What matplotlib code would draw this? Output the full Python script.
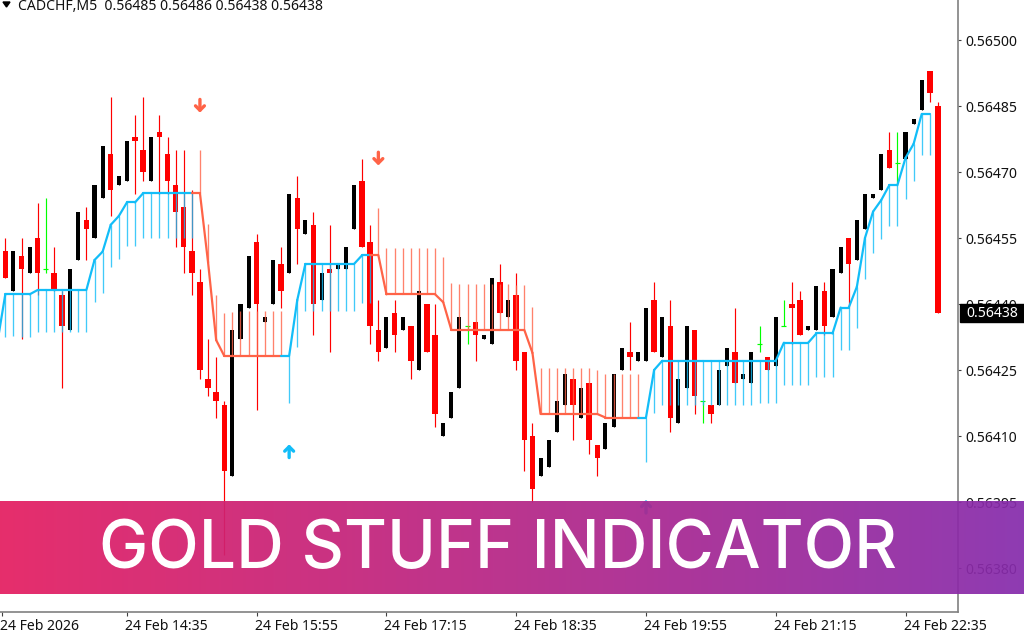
import numpy as np
import matplotlib
matplotlib.use("Agg")
import matplotlib.pyplot as plt
from matplotlib.ticker import FixedLocator
from matplotlib.transforms import ScaledTranslation

# quotes are kept as points above 0.56000 (1 point = 0.00001)
highs = [455,452,455,453,463,464,453,443,448,461,462,467,476,487,469,477,483,487,478,483,478,475,475,466,
         448,432,428,418,434,440,451,456,437,450,453,465,469,459,461,447,458,449,453,467,473,458,441,437,
         441,437,435,443,440,440,413,420,437,435,436,433,446,449,441,447,429,413,405,409,418,424,423,421,
         422,408,413,424,430,436,429,439,445,437,441,423,435,434,418,417,425,430,439,424,429,435,428,437,
         441,445,443,435,444,445,448,453,455,459,465,465,474,479,479,479,482,491,493,486]
opens = [452,443,451,447,455,448,447,442,434,450,459,455,464,474,467,468,478,475,468,479,474,467,462,452,
         445,423,420,417,401,432,439,454,436,440,449,447,464,456,458,441,448,448,448,457,468,454,434,430,
         438,434,435,425,440,433,410,414,421,435,436,432,431,445,437,442,429,410,401,403,411,417,423,414,
         422,408,407,412,425,429,427,427,441,428,435,413,421,434,418,417,417,426,429,423,422,431,428,426,
         435,440,441,434,434,443,437,447,455,450,457,464,466,475,472,473,481,484,493,485]
closes = [446,452,448,453,447,448,443,435,448,461,457,467,476,466,469,477,477,470,478,478,468,461,453,447,
          425,421,418,402,434,440,451,440,437,450,443,465,457,459,440,447,447,449,453,467,453,435,429,437,
          433,437,427,443,429,415,413,420,437,435,433,433,446,438,441,427,409,398,405,409,418,424,417,421,
          409,405,413,424,430,428,429,439,429,437,414,423,435,419,418,415,425,430,422,424,429,431,425,437,
          435,439,433,435,444,435,448,453,449,459,465,465,474,471,472,479,482,491,488,438]
lows = [446,443,432,447,442,447,443,421,434,450,450,455,464,460,467,468,465,468,468,465,465,453,447,442,
        423,419,414,383,401,432,439,416,436,440,439,447,449,456,433,441,429,448,448,457,453,431,427,430,
        429,434,423,425,429,412,410,414,421,431,427,432,431,438,437,425,402,395,401,403,411,417,409,414,
        406,401,407,412,425,425,427,427,429,428,411,413,421,415,413,413,417,426,422,423,422,429,425,426,
        435,431,433,434,434,433,437,447,439,450,457,464,466,471,467,473,481,484,486,438]

# indicator line and far end of its hatching, first value is one bar left of the window
gold_line = [431,442.2,442.2,442.2,442.2,443.2,443.2,443.2,443.2,443.2,443.2,443.2,450,451.9,458,460,463.1,463.1,
             465.2,465.2,465.2,465.2,465.2,465.2,465.2,465.2,449.5,431.8,428.2,428.2,428.2,428.2,428.2,428.2,428.2,428.2,428.2,
             440.9,449.1,449.1,449.1,449.1,449.1,449.1,449.1,451.1,451.1,451.1,442.2,442.2,442.2,442.2,442.2,442.2,442.2,
             440.4,434.1,434.1,434.1,434.1,434.1,434.1,434.1,434.1,434.1,434.1,428.9,415,415,415,415,415,415,415,415,
             414.2,414.2,414.2,414.2,414.2,414.2,425,427.1,427.1,427.1,427.1,427.1,427.1,427.1,427.1,427.1,427.1,427.1,427.1,427.1,427.1,427.1,
             431.2,431.2,431.2,431.2,433.3,433.3,433.3,439.2,439.2,443.9,455,461,463.6,467,467,473.2,476.4,483.2,483.2]
gold_edge = [427,432.5,432.8,432.5,432.5,433.7,433.7,433.7,433.7,433.7,433.7,433.7,440.4,442.4,448.5,450.2,453.3,453.3,
             455.1,455.1,455.1,455.1,455.1,455.1,455.1,475.1,458.2,442,438,438.2,438.3,438.3,438.3,438.3,438.3,438.3,417.5,
             430.3,438.3,438.3,438.3,438.3,438.3,438.3,438.3,440.2,440.2,461.9,452.7,452.7,452.7,452.7,452.7,452.7,452.7,
             450.6,444.7,444.6,444.6,444.6,444.6,444.6,444.6,444.6,444.3,444.3,439.4,425.4,425.4,425.4,425.4,425.4,425.4,425.4,424.9,
             424.2,424.2,424.2,424.2,424.2,404.1,415.2,417,417,417,417,417,417,417,417,417,417,417,417,417.4,417.4,417.4,
             421.6,421.6,421.6,421.6,423.5,423.5,423.5,429.5,429.5,434.6,445.7,451.7,454.8,457.8,457.8,463.9,468,473.9,473.9]

sell_arrows = {24: 485, 46: 473}
buy_arrows = {35: 406.6, 79: 394}

tick_bars = [-0.4, 15, 31, 47, 63, 79, 95, 111]
tick_labels = ["24 Feb 2026", "24 Feb 14:35", "24 Feb 15:55", "24 Feb 17:15", "24 Feb 18:35",
               "24 Feb 19:55", "24 Feb 21:15", "24 Feb 22:35"]
price_ticks = [0.56380, 0.56395, 0.56410, 0.56425, 0.56440, 0.56455, 0.56470, 0.56485, 0.56500]

BLUE = "#12BDF8"
ORANGE = "#FF6347"
FONT = "Noto Sans"
LABEL_SIZE = 10.1
TEXT_COLOR = "#111111"


def to_price(values):
    return 0.56 + np.asarray(values, dtype=float) * 1e-5


o, h, l, c = to_price(opens), to_price(highs), to_price(lows), to_price(closes)
line = to_price(gold_line)
edge = to_price(gold_edge)
bars = np.arange(len(o))
line_x = np.arange(-1, len(o))

fig = plt.figure(figsize=(10.24, 6.4), dpi=100, facecolor="white")
ax = fig.add_axes([0, 1 - 612 / 640, 958 / 1024, 612 / 640])

# candles
for i in bars:
    if c[i] == o[i]:
        color, width = "#00FF00", 0.0
    elif c[i] > o[i]:
        color, width = "black", 0.5
    else:
        color, width = "#FF0000", 0.68
    ax.vlines(i, l[i], h[i], color=color, lw=0.85, zorder=2)
    if width:
        ax.bar(i, abs(c[i] - o[i]), bottom=min(o[i], c[i]), width=width, color=color, lw=0, zorder=2)
    else:
        ax.hlines(c[i], i - 0.3, i + 0.3, color=color, lw=0.85, zorder=2)

# indicator hatching and line
is_sell = edge > line
for x, a, b, sell in zip(line_x, line, edge, is_sell):
    ax.vlines(x, a, b, color=ORANGE if sell else BLUE, lw=0.95, alpha=0.8, zorder=3)
for k in range(1, len(line)):
    ax.plot(line_x[k - 1:k + 1], line[k - 1:k + 1], color=ORANGE if is_sell[k] else BLUE,
            lw=1.6, solid_capstyle="round", zorder=4)

# signal arrows
arrow_style = "->,head_width=0.32,head_length=0.32"
for x, pts in sell_arrows.items():
    ax.annotate("", xy=(x, to_price(pts) - 1.5e-5), xytext=(x, to_price(pts) + 1.5e-5),
                arrowprops=dict(arrowstyle=arrow_style, color=ORANGE, lw=2.4, shrinkA=0, shrinkB=0), zorder=5)
for x, pts in buy_arrows.items():
    ax.annotate("", xy=(x, to_price(pts) + 1.5e-5), xytext=(x, to_price(pts) - 1.5e-5),
                arrowprops=dict(arrowstyle=arrow_style, color=BLUE, lw=2.4, shrinkA=0, shrinkB=0), zorder=5)

ax.set_xlim(-5.3 / 8.11, (958 - 5.3) / 8.11)
ax.set_ylim(to_price(370), to_price(509.1))

ax.spines["top"].set_visible(False)
ax.spines["left"].set_visible(False)
ax.spines["right"].set_color("#808080")
ax.spines["bottom"].set_color("#808080")
ax.spines["right"].set_linewidth(1.2)
ax.spines["bottom"].set_linewidth(1.2)

ax.yaxis.tick_right()
ax.yaxis.set_major_locator(FixedLocator(price_ticks))
ax.set_yticklabels([f"{p:.5f}" for p in price_ticks], fontfamily=FONT, fontsize=LABEL_SIZE, color=TEXT_COLOR)
ax.tick_params(axis="y", length=2.5, width=0.8, color="#404040", pad=3)

ax.set_xticks(tick_bars)
ax.set_xticklabels(tick_labels, fontfamily=FONT, fontsize=LABEL_SIZE, color=TEXT_COLOR, ha="left")
ax.tick_params(axis="x", length=3, width=0.8, color="#404040", pad=2)
shift = ScaledTranslation(-2 / 100, 0, fig.dpi_scale_trans)
for t in ax.get_xticklabels():
    t.set_transform(t.get_transform() + shift)

# header, black price tag
fig.text(18 / 1024, 1 - 7 / 640, "CADCHF,M5  0.56485 0.56486 0.56438 0.56438", fontfamily=FONT,
         fontsize=LABEL_SIZE, color=TEXT_COLOR, va="center", ha="left")
ax.fill([3 / 958, 6.5 / 958, 10 / 958], [1 - 2 / 612, 1 - 7 / 612, 1 - 2 / 612], color="black",
        transform=ax.transAxes, clip_on=False, zorder=6)
fig.patches.append(plt.Rectangle((960 / 1024, 1 - 322 / 640), 64 / 1024, 18 / 640, color="black",
                                 transform=fig.transFigure, zorder=6))
fig.text(992 / 1024, 1 - 313.5 / 640, f"{c[-1]:.5f}", fontfamily=FONT, fontsize=LABEL_SIZE, color="white",
         va="center", ha="center", zorder=7)

# banner over the chart, colours corrected for the slight transparency
banner = fig.add_axes([0, 1 - 594 / 640, 1, 93 / 640], zorder=10)
banner_alpha = 0.93
left_rgb = (np.array([0xE6, 0x2E, 0x6C]) / 255 - (1 - banner_alpha)) / banner_alpha
right_rgb = (np.array([0x8F, 0x3B, 0xB2]) / 255 - (1 - banner_alpha)) / banner_alpha
mix = np.linspace(0, 1, 512)[None, :, None]
gradient = np.clip(left_rgb[None, None, :] * (1 - mix) + right_rgb[None, None, :] * mix, 0, 1)
banner.imshow(gradient, aspect="auto", alpha=banner_alpha, interpolation="bilinear")
banner.axis("off")
banner.text(0.4868, 0.47, "GOLD STUFF INDICATOR", transform=banner.transAxes, color="white",
            fontfamily="Inter", fontsize=47.5, fontweight="medium", ha="center", va="center")

fig.savefig("out.png", dpi=100)
